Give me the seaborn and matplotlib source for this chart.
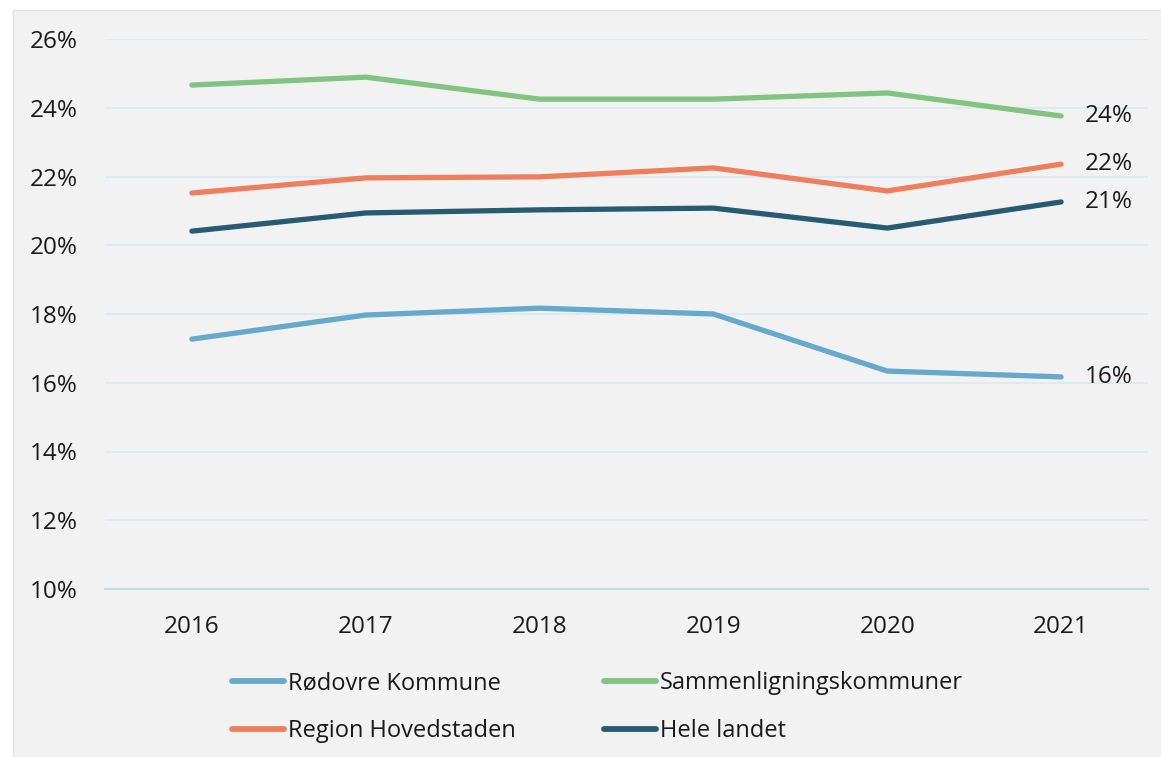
import matplotlib
matplotlib.use("Agg")
import matplotlib.pyplot as plt
import seaborn as sns
import pandas as pd
from matplotlib.patches import Rectangle
from matplotlib.lines import Line2D

years = ["2016", "2017", "2018", "2019", "2020", "2021"]
rodovre = [17.27, 17.97, 18.17, 18.00, 16.34, 16.17]
sammen = [24.66, 24.89, 24.25, 24.25, 24.43, 23.76]
region = [21.52, 21.96, 21.99, 22.25, 21.58, 22.36]
hele = [20.41, 20.94, 21.03, 21.08, 20.50, 21.26]
series_names = ["Rødovre Kommune", "Sammenligningskommuner", "Region Hovedstaden", "Hele landet"]
end_labels = ["16%", "24%", "22%", "21%"]
yticks = [10, 12, 14, 16, 18, 20, 22, 24, 26]

colors = ["#65a9cc", "#80c47f", "#ef7f5c", "#265b73"]

sns.set_theme(style="white")
plt.rcParams["font.family"] = ["Open Sans", "DejaVu Sans"]

rows = []
for name, vals in zip(series_names, [rodovre, sammen, region, hele]):
    for y, v in zip(years, vals):
        rows.append({"År": y, "Andel": v, "Serie": name})
df = pd.DataFrame(rows)

fig = plt.figure(figsize=(11.61, 7.57), dpi=100)
fig.patch.set_facecolor("white")
bg = Rectangle((13 / 1161, 0), 1 - 13 / 1161, 1 - 10 / 757,
               transform=fig.transFigure, facecolor="#f2f2f2",
               edgecolor="#e2e2e2", lw=1, zorder=-10)
fig.add_artist(bg)

ax = fig.add_axes([105 / 1161, 1 - 589 / 757, (1148 - 105) / 1161, (589 - 39) / 757])
ax.set_facecolor("none")
ax.set_zorder(5)

sns.lineplot(data=df, x="År", y="Andel", hue="Serie", hue_order=series_names,
             palette=colors, linewidth=3.8, sort=False, ax=ax, legend=False,
             solid_capstyle="round")

FS = 17.5
ax.set_ylim(10, 26)
ax.set_xlim(-0.5, 5.5)
ax.set_yticks(yticks)
ax.set_yticklabels([f"{t}%" for t in yticks])
ax.set_xticks(range(len(years)))
ax.set_xticklabels(years)
ax.tick_params(axis="y", length=0, pad=19.5, labelsize=FS, labelcolor="#1a1a1a")
ax.tick_params(axis="x", length=0, pad=19, labelsize=FS, labelcolor="#1a1a1a")
ax.set_xlabel("")
ax.set_ylabel("")
ax.grid(axis="y", color="#dce8f1", linewidth=1.2)
ax.set_axisbelow(True)
for s in ["top", "right", "left"]:
    ax.spines[s].set_visible(False)
ax.spines["bottom"].set_color("#c3dbea")
ax.spines["bottom"].set_linewidth(1.5)

for vals, lab in zip([rodovre, sammen, region, hele], end_labels):
    ax.annotate(lab, xy=(5, vals[-1]), xytext=(17, 0), textcoords="offset points",
                va="center", ha="left", fontsize=FS, color="#1a1a1a")

handles = [Line2D([0], [0], color=c, lw=4.2, solid_capstyle="round") for c in colors]
order = [0, 2, 1, 3]
leg = fig.legend([handles[i] for i in order], [series_names[i] for i in order],
                 ncol=2, loc="upper left",
                 bbox_to_anchor=(211 / 1161, 1 - 650 / 757), frameon=False,
                 fontsize=17, handlelength=2.2, handletextpad=0.15,
                 columnspacing=3.75, labelspacing=1.0)
for t in leg.get_texts():
    t.set_color("#1a1a1a")

fig.savefig("out.png", dpi=100, facecolor="white")
